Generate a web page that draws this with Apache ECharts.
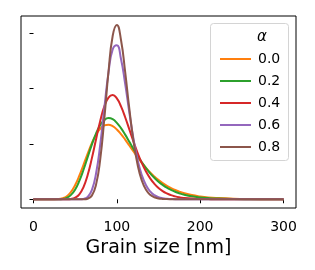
<!DOCTYPE html>
<html>
<head>
<meta charset="utf-8">
<script src="https://cdn.jsdelivr.net/npm/echarts@6/dist/echarts.min.js"></script>
<style>html,body{margin:0;padding:0;background:#fff}#c{width:315px;height:270px}</style>
</head>
<body>
<div id="c"></div>
<script>
// Grain size grid (nm)
const xs = [0,10,20,30,35,40,45,50,55,60,65,70,75,80,85,90,95,100,105,110,115,120,125,130,135,140,145,150,155,160,165,170,175,180,190,200,210,220,240,260,280,300];
// Density values (x 0.01 per nm), one array per alpha
const a00 = [0,0,0,0.004,0.018,0.056,0.133,0.258,0.425,0.621,0.823,1.010,1.163,1.271,1.331,1.344,1.317,1.257,1.174,1.076,0.970,0.862,0.757,0.658,0.567,0.484,0.411,0.347,0.291,0.243,0.202,0.167,0.138,0.114,0.077,0.052,0.034,0.023,0.010,0.004,0.002,0.001];
const a02 = [0,0,0,0.001,0.007,0.027,0.079,0.178,0.332,0.532,0.760,0.986,1.185,1.336,1.429,1.463,1.443,1.378,1.282,1.165,1.037,0.908,0.783,0.667,0.561,0.468,0.387,0.317,0.259,0.209,0.169,0.135,0.108,0.086,0.054,0.034,0.021,0.013,0.005,0.002,0.001,0];
const a04 = [0,0,0,0,0,0.001,0.006,0.028,0.089,0.220,0.438,0.737,1.079,1.408,1.673,1.833,1.879,1.818,1.674,1.479,1.259,1.039,0.833,0.653,0.501,0.377,0.280,0.204,0.147,0.105,0.074,0.052,0.036,0.025,0.012,0.006,0.003,0.001,0,0,0,0];
const a06 = [0,0,0,0,0,0,0,0,0.001,0.007,0.042,0.165,0.460,0.975,1.645,2.286,2.700,2.774,2.528,2.079,1.564,1.088,0.708,0.434,0.253,0.141,0.075,0.039,0.019,0.009,0.005,0.002,0.001,0,0,0,0,0,0,0,0,0];
const a08 = [0,0,0,0,0,0,0,0,0,0.001,0.011,0.066,0.260,0.712,1.452,2.298,2.943,3.142,2.871,2.294,1.632,1.048,0.617,0.336,0.171,0.082,0.037,0.016,0.007,0.003,0.001,0,0,0,0,0,0,0,0,0,0,0];
const names = ['0.0','0.2','0.4','0.6','0.8'];
const colors = ['#ff7f0e','#2ca02c','#d62728','#9467bd','#8c564b'];
const xTicks = [0,100,200,300];
const yTicks = [0,1,2,3];

const allY = [a00,a02,a04,a06,a08];
const font = 'DejaVu Sans';
const chart = echarts.init(document.getElementById('c'), null, {renderer:'canvas'});
chart.setOption({
  animation:false,
  backgroundColor:'#fff',
  grid:{left:21,top:16,width:275,height:192,show:true,borderColor:'#000',borderWidth:1,backgroundColor:'transparent'},
  xAxis:{type:'value',min:-15,max:315,
    axisLine:{show:false},splitLine:{show:false},
    axisTick:{show:true,customValues:xTicks,length:4,lineStyle:{color:'#000',width:1}},
    axisLabel:{customValues:xTicks,fontSize:14,color:'#000',fontFamily:font,margin:12},
    name:'Grain size [nm]',nameLocation:'middle',nameGap:30,
    nameTextStyle:{fontSize:19,color:'#000',fontFamily:font}},
  yAxis:{type:'value',min:-0.157,max:3.303,
    axisLine:{show:false},splitLine:{show:false},
    axisTick:{show:true,customValues:yTicks,length:4,lineStyle:{color:'#000',width:1}},
    axisLabel:{show:false}},
  legend:{orient:'vertical',left:215,top:46,itemWidth:31,itemHeight:2,itemGap:6,icon:'rect',z:20,
    data:names,
    textStyle:{fontSize:14,color:'#000',fontFamily:font,lineHeight:16,padding:[0,0,0,2]}},
  graphic:[
    {type:'rect',left:210,top:23,z:3,shape:{width:78,height:137,r:3},
      style:{fill:'rgba(255,255,255,0.8)',stroke:'#d4d4d4',lineWidth:1}},
    {type:'text',left:257,top:30,z:20,
      style:{text:'α',font:'italic 15px "DejaVu Sans"',fill:'#000'}}
  ],
  series: allY.map((ys,i)=>({
    type:'line',name:names[i],data:xs.map((x,j)=>[x,ys[j]]),
    smooth:true,showSymbol:false,symbol:'none',
    lineStyle:{color:colors[i],width:2},itemStyle:{color:colors[i]},
    z:2
  }))
});
</script>
</body>
</html>
